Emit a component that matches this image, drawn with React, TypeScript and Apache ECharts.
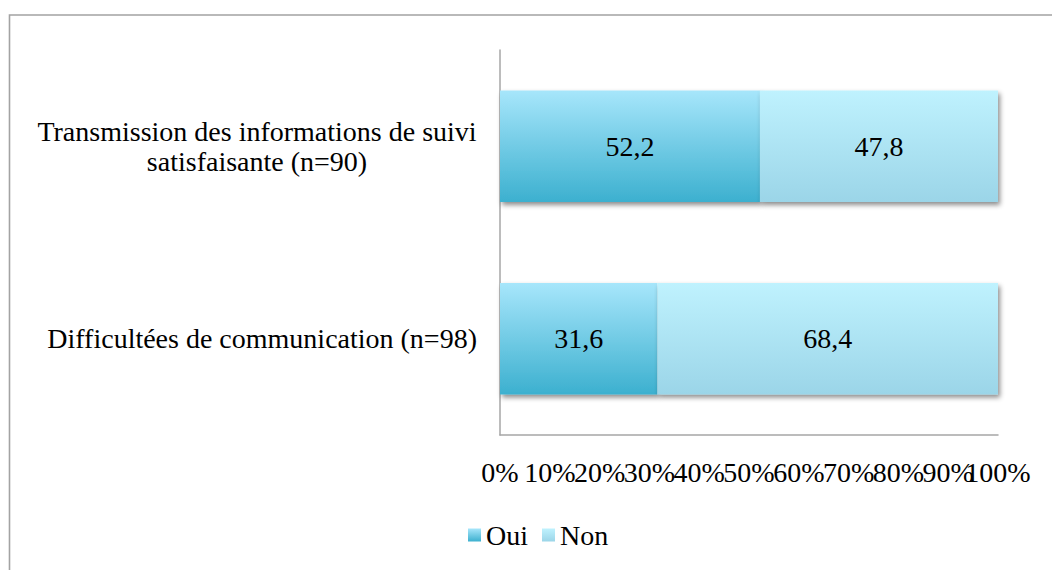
import React, { useEffect, useRef } from "react";
import * as echarts from "echarts";

const CATEGORIES = [
  "Difficultées de communication (n=98)",
  "Transmission des informations de suivi\nsatisfaisante (n=90)",
];
const OUI = [31.6, 52.2];
const NON = [68.4, 47.8];
const SERIES_NAMES = ["Oui", "Non"];
const X_MIN = 0;
const X_MAX = 100;
const X_STEP = 10;
// tick labels drawn by the overlay axis (so overlapping ones are not dropped)
const OVERLAY_TICKS = [90];

const FONT = "'Liberation Serif', serif";
const FS = 28;

function measure(text: string): number {
  const c = document.createElement("canvas");
  const ctx = c.getContext("2d");
  if (!ctx) return text.length * FS * 0.45;
  ctx.font = `${FS}px ${FONT}`;
  return ctx.measureText(text).width;
}

export default function App() {
  const ref = useRef<HTMLDivElement>(null);
  useEffect(() => {
    if (!ref.current) return;
    const chart = echarts.init(ref.current, null, { renderer: "svg" });
    const fmt = (v: number) => String(v).replace(".", ",");
    const rich: Record<string, any> = {};
    CATEGORIES.forEach((cat) => {
      const lines = cat.split("\n");
      if (lines.length > 1) {
        const w = Math.ceil(Math.max(...lines.map(measure)));
        rich[`c${w}`] = {
          width: w,
          align: "center",
          fontFamily: FONT,
          fontSize: FS,
          color: "#000",
          lineHeight: 30,
        };
      }
    });
    const xLabelBase = {
      fontFamily: FONT,
      fontSize: FS,
      color: "#000",
      margin: 22,
      lineHeight: 30,
      showMinLabel: true,
      showMaxLabel: true,
      hideOverlap: false,
    };
    chart.setOption({
      animation: false,
      backgroundColor: "#ffffff",
      textStyle: { fontFamily: FONT },
      graphic: [
        {
          type: "rect",
          shape: { x: 9.5, y: 15, width: 1100, height: 600 },
          style: { fill: "none", stroke: "#a3a3a3", lineWidth: 1.6 },
          silent: true,
        },
      ],
      grid: {
        left: 500,
        right: 54,
        top: 50,
        bottom: 135,
        containLabel: false,
        outerBoundsMode: "none",
      },
      legend: {
        data: SERIES_NAMES,
        left: 463,
        top: 516,
        itemWidth: 13,
        itemHeight: 13,
        itemGap: 14,
        icon: "rect",
        textStyle: { fontFamily: FONT, fontSize: FS, color: "#000" },
      },
      xAxis: [
        {
          type: "value",
          position: "bottom",
          min: X_MIN,
          max: X_MAX,
          interval: X_STEP,
          splitLine: { show: false },
          axisTick: { show: false },
          axisLine: { show: true, lineStyle: { color: "#a6a6a6", width: 1.5 } },
          axisLabel: {
            ...xLabelBase,
            formatter: (v: number) => (OVERLAY_TICKS.includes(v) ? "" : `${v}%`),
          },
        },
        {
          type: "value",
          position: "bottom",
          min: X_MIN,
          max: X_MAX,
          interval: X_STEP,
          splitLine: { show: false },
          axisTick: { show: false },
          axisLine: { show: false },
          axisLabel: {
            ...xLabelBase,
            formatter: (v: number) => (OVERLAY_TICKS.includes(v) ? `${v}%` : ""),
          },
        },
      ],
      yAxis: {
        type: "category",
        data: CATEGORIES,
        axisTick: { show: false },
        axisLine: { show: true, lineStyle: { color: "#a6a6a6", width: 1.5 } },
        axisLabel: {
          fontFamily: FONT,
          fontSize: FS,
          color: "#000",
          margin: 23,
          lineHeight: 30,
          formatter: (v: string) => {
            const lines = v.split("\n");
            if (lines.length === 1) return v;
            const w = Math.ceil(Math.max(...lines.map(measure)));
            return lines.map((l) => `{c${w}|${l}}`).join("\n");
          },
          rich,
        },
      },
      series: [
        {
          name: SERIES_NAMES[0],
          type: "bar",
          stack: "total",
          xAxisIndex: 0,
          barWidth: "58%",
          data: OUI,
          itemStyle: {
            color: new echarts.graphic.LinearGradient(0, 0, 0, 1, [
              { offset: 0, color: "#a7e6fb" },
              { offset: 1, color: "#3cb0cf" },
            ]),
            shadowBlur: 5,
            shadowOffsetX: 2,
            shadowOffsetY: 3,
            shadowColor: "rgba(0,0,0,0.45)",
          },
          label: {
            show: true,
            position: "inside",
            formatter: (p: any) => fmt(p.value),
            fontFamily: FONT,
            fontSize: FS,
            color: "#000",
          },
        },
        {
          name: SERIES_NAMES[1],
          type: "bar",
          stack: "total",
          xAxisIndex: 0,
          barWidth: "58%",
          data: NON,
          itemStyle: {
            color: new echarts.graphic.LinearGradient(0, 0, 0, 1, [
              { offset: 0, color: "#bff2fe" },
              { offset: 1, color: "#9bd5e8" },
            ]),
            shadowBlur: 5,
            shadowOffsetX: 2,
            shadowOffsetY: 3,
            shadowColor: "rgba(0,0,0,0.45)",
          },
          label: {
            show: true,
            position: "inside",
            formatter: (p: any) => fmt(p.value),
            fontFamily: FONT,
            fontSize: FS,
            color: "#000",
          },
        },
      ],
    });
    return () => chart.dispose();
  }, []);
  return (
    <div
      ref={ref}
      style={{ position: "fixed", left: 0, top: 0, width: 1052, height: 570 }}
    />
  );
}
